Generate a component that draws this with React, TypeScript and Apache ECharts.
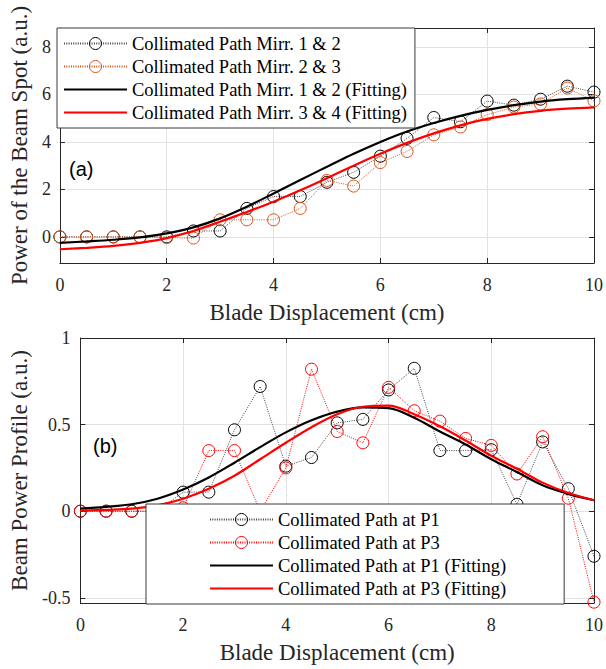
import React, { useEffect, useRef } from 'react';
import * as echarts from 'echarts';

// Blade displacement samples (cm)
const xPoints = [0, 0.5, 1, 1.5, 2, 2.5, 3, 3.5, 4, 4.5, 5, 5.5, 6, 6.5, 7, 7.5, 8, 8.5, 9, 9.5, 10];

// (a) Power of the beam spot
const mirr12 = [0, 0, 0, 0, 0, 0.25, 0.25, 1.2, 1.7, 1.7, 2.3, 2.72, 3.4, 4.15, 5.03, 4.85, 5.72, 5.55, 5.8, 6.35, 6.1];
const mirr23 = [0, 0, 0, 0, -0.03, -0.05, 0.72, 0.72, 0.72, 1.2, 2.38, 2.14, 3.13, 3.6, 4.3, 4.63, 5.15, 5.47, 5.6, 6.27, 5.73];
const fit12 = [-0.25, -0.19, -0.12, -0.02, 0.15, 0.4, 0.78, 1.27, 1.83, 2.4, 2.95, 3.5, 4.0, 4.44, 4.8, 5.1, 5.35, 5.55, 5.7, 5.8, 5.87];
const fit34 = [-0.52, -0.46, -0.38, -0.25, -0.05, 0.25, 0.64, 1.05, 1.48, 1.96, 2.47, 3.0, 3.5, 3.96, 4.36, 4.7, 4.97, 5.17, 5.31, 5.4, 5.46];

// (b) Beam power profile
const p1 = [0, 0, 0, 0, 0.11, 0.11, 0.47, 0.72, 0.26, 0.31, 0.51, 0.53, 0.7, 0.825, 0.35, 0.35, 0.355, 0.04, 0.4, 0.13, -0.26];
const p3 = [0, 0, 0, 0, 0.02, 0.35, 0.35, 0, 0.25, 0.82, 0.46, 0.395, 0.715, 0.58, 0.52, 0.42, 0.38, 0.215, 0.43, 0.075, -0.525];
const p1fit = [0.015, 0.025, 0.04, 0.072, 0.125, 0.195, 0.28, 0.37, 0.455, 0.525, 0.575, 0.6, 0.595, 0.54, 0.46, 0.385, 0.3, 0.226, 0.15, 0.1, 0.063];
const p3fit = [0.003, 0.008, 0.015, 0.034, 0.072, 0.13, 0.205, 0.3, 0.395, 0.485, 0.56, 0.603, 0.61, 0.56, 0.49, 0.408, 0.32, 0.245, 0.165, 0.105, 0.063];

// Tick labels
const xTicks = [0, 2, 4, 6, 8, 10];
const yTicksA = [0, 2, 4, 6, 8];
const yTicksB = [-0.5, 0, 0.5, 1];

const namesA = [
  'Collimated Path Mirr. 1 & 2',
  'Collimated Path Mirr. 2 & 3',
  'Collimated Path Mirr. 1 & 2 (Fitting)',
  'Collimated Path Mirr. 3 & 4 (Fitting)',
];
const namesB = [
  'Collimated Path at P1',
  'Collimated Path at P3',
  'Collimated Path at P1 (Fitting)',
  'Collimated Path at P3 (Fitting)',
];

const SERIF = "'Liberation Serif', 'Times New Roman', serif";
const SANS = "'Liberation Sans', Arial, sans-serif";
const AXIS_COLOR = '#262626';
const GRID_COLOR = '#e2e2e2';
const ORANGE = '#D95319';
const RED = '#FF0000';
const LINE_ICON = 'path://M0,0H63V2.2H0Z';

export default function App() {
  const ref = useRef<HTMLDivElement>(null);

  useEffect(() => {
    const chart = echarts.init(ref.current!, null, { renderer: 'svg' });
    const pair = (ys: number[]) => xPoints.map((x, i) => [x, ys[i]]);

    const xAxisMain = (gridIndex: number) => ({
      type: 'value',
      gridIndex,
      position: 'bottom',
      min: 0,
      max: 10,
      interval: 2,
      axisLine: { show: true, onZero: false, lineStyle: { color: AXIS_COLOR, width: 1 } },
      axisTick: { show: true, inside: true, length: 5, lineStyle: { color: AXIS_COLOR } },
      axisLabel: {
        margin: 13,
        fontFamily: SERIF,
        fontSize: 18,
        color: AXIS_COLOR,
        customValues: xTicks,
      },
      splitLine: { show: true, lineStyle: { color: GRID_COLOR, width: 1 } },
      name: 'Blade Displacement (cm)',
      nameLocation: 'middle',
      nameGap: 38,
      nameTextStyle: { fontFamily: SERIF, fontSize: 23, color: AXIS_COLOR },
    });
    const xAxisTop = (gridIndex: number) => ({
      type: 'value',
      gridIndex,
      position: 'top',
      min: 0,
      max: 10,
      interval: 2,
      axisLine: { show: true, onZero: false, lineStyle: { color: AXIS_COLOR, width: 1 } },
      axisTick: { show: true, inside: true, length: 5, lineStyle: { color: AXIS_COLOR } },
      axisLabel: { show: false },
      splitLine: { show: false },
    });
    const yAxisMain = (gridIndex: number, min: number, max: number, ticks: number[], name: string, nameGap: number, margin: number) => ({
      type: 'value',
      gridIndex,
      position: 'left',
      min,
      max,
      axisLine: { show: true, onZero: false, lineStyle: { color: AXIS_COLOR, width: 1 } },
      axisTick: { show: true, inside: true, length: 5, lineStyle: { color: AXIS_COLOR }, customValues: ticks },
      axisLabel: { margin, fontFamily: SERIF, fontSize: 18, color: AXIS_COLOR, customValues: ticks },
      splitLine: { show: true, lineStyle: { color: GRID_COLOR, width: 1 } },
      name,
      nameLocation: 'middle',
      nameGap,
      nameTextStyle: { fontFamily: SERIF, fontSize: 23, color: AXIS_COLOR },
    });
    const yAxisRight = (gridIndex: number, min: number, max: number, ticks: number[]) => ({
      type: 'value',
      gridIndex,
      position: 'right',
      min,
      max,
      axisLine: { show: true, onZero: false, lineStyle: { color: AXIS_COLOR, width: 1 } },
      axisTick: { show: true, inside: true, length: 5, lineStyle: { color: AXIS_COLOR }, customValues: ticks },
      axisLabel: { show: false, customValues: ticks },
      splitLine: { show: false },
    });

    const markerSeries = (name: string, ys: number[], color: string, lineColor: string, xi: number, yi: number) => ({
      type: 'line',
      name,
      xAxisIndex: xi,
      yAxisIndex: yi,
      data: pair(ys),
      symbol: 'circle',
      symbolSize: 12,
      clip: false,
      itemStyle: { color: 'rgba(255,255,255,0)', borderColor: color, borderWidth: 1 },
      lineStyle: { color: lineColor, width: 1, type: [1, 1.3] },
      emphasis: { disabled: true },
      z: 2,
    });
    const fitSeries = (name: string, ys: number[], color: string, xi: number, yi: number) => ({
      type: 'line',
      name,
      xAxisIndex: xi,
      yAxisIndex: yi,
      data: pair(ys),
      symbol: 'none',
      smooth: 0.35,
      itemStyle: { color },
      lineStyle: { color, width: 2.2, type: 'solid' },
      emphasis: { disabled: true },
      z: 3,
    });

    const legendCommon = {
      orient: 'vertical',
      itemWidth: 63,
      itemHeight: 15,
      itemGap: 4,
      selectedMode: false,
      backgroundColor: '#ffffff',
      borderColor: '#3a3a3a',
      borderWidth: 1,
      borderRadius: 0,
      textStyle: { fontFamily: SERIF, fontSize: 18.5, color: '#000000' },
      z: 10,
    };
    const legendData = (names: string[], c0: string, c1: string) => [
      { name: names[0], itemStyle: { color: 'rgba(255,255,255,0)', borderColor: c0, borderWidth: 1 } },
      { name: names[1], itemStyle: { color: 'rgba(255,255,255,0)', borderColor: c1, borderWidth: 1 } },
      { name: names[2], icon: LINE_ICON, itemStyle: { borderWidth: 0 } },
      { name: names[3], icon: LINE_ICON, itemStyle: { borderWidth: 0 } },
    ];

    chart.setOption({
      animation: false,
      backgroundColor: '#ffffff',
      grid: [
        { left: 56, top: 28, width: 538, height: 235, containLabel: false },
        { left: 76, top: 338, width: 521, height: 265, containLabel: false },
      ],
      xAxis: [xAxisMain(0), xAxisTop(0), xAxisMain(1), xAxisTop(1)],
      yAxis: [
        yAxisMain(0, -1.1, 8.8, yTicksA, 'Power of the Beam Spot (a.u.)', 26, 9),
        yAxisRight(0, -1.1, 8.8, yTicksA),
        yAxisMain(1, -0.53, 1, yTicksB, 'Beam Power Profile (a.u.)', 45, 10),
        yAxisRight(1, -0.53, 1, yTicksB),
      ],
      legend: [
        { ...legendCommon, data: legendData(namesA, '#000000', ORANGE), left: 57, top: 28, padding: [6, 8, 6, 6] },
        { ...legendCommon, data: legendData(namesB, '#000000', RED), left: 146, top: 504, padding: [6, 58, 6, 63] },
      ],
      graphic: [
        {
          type: 'text',
          left: 69,
          top: 159,
          z: 20,
          style: { text: '(a)', fontFamily: SANS, fontSize: 20, fill: '#000' },
        },
        {
          type: 'text',
          left: 93,
          top: 436,
          z: 20,
          style: { text: '(b)', fontFamily: SANS, fontSize: 20, fill: '#000' },
        },
      ],
      series: [
        markerSeries(namesA[0], mirr12, '#000000', '#444444', 0, 0),
        markerSeries(namesA[1], mirr23, ORANGE, ORANGE, 0, 0),
        fitSeries(namesA[2], fit12, '#000000', 0, 0),
        fitSeries(namesA[3], fit34, RED, 0, 0),
        markerSeries(namesB[0], p1, '#000000', '#444444', 2, 2),
        markerSeries(namesB[1], p3, RED, RED, 2, 2),
        fitSeries(namesB[2], p1fit, '#000000', 2, 2),
        fitSeries(namesB[3], p3fit, RED, 2, 2),
      ],
    });

    return () => chart.dispose();
  }, []);

  return (
    <div
      ref={ref}
      style={{ position: 'fixed', left: 0, top: 0, width: 606, height: 669, background: '#fff' }}
    />
  );
}
